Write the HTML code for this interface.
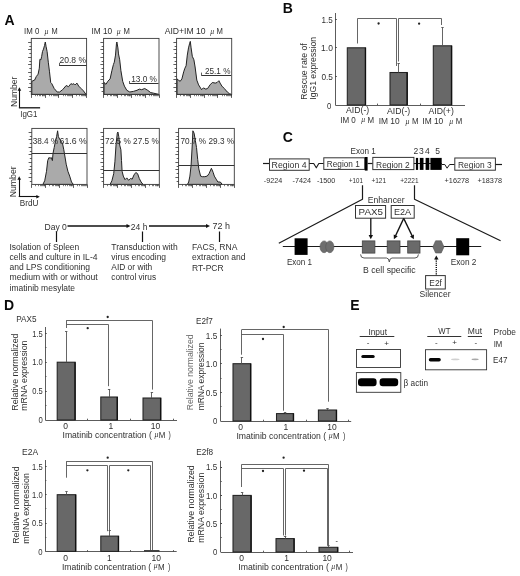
<!DOCTYPE html>
<html><head><meta charset="utf-8"><title>Figure</title>
<style>
html,body{margin:0;padding:0;background:#fff;}
body{width:520px;height:576px;overflow:hidden;position:relative;}
svg{position:absolute;left:0;top:0;display:block;filter:blur(0.3px);}
svg text{font-family:"Liberation Sans", sans-serif;}
</style></head>
<body>
<svg width="520" height="576" viewBox="0 0 520 576">
<rect x="0" y="0" width="520" height="576" fill="#fff"/>
<text x="4.4" y="25.4" font-size="14" font-weight="bold" fill="#0a0a0a" >A</text>
<text x="282.8" y="12.5" font-size="14" font-weight="bold" fill="#0a0a0a" >B</text>
<text x="282.7" y="141.6" font-size="14" font-weight="bold" fill="#0a0a0a" >C</text>
<text x="4.1" y="309.6" font-size="14" font-weight="bold" fill="#0a0a0a" >D</text>
<text x="350.2" y="309.6" font-size="14" font-weight="bold" fill="#0a0a0a" >E</text>
<polygon points="31.8,94.4 31.8,81.3 34.6,80.1 36.3,76.5 38.1,74.2 39.3,68.2 39.9,59.3 40.9,59.8 41.7,56.3 42.5,51.5 43.5,49.1 44.5,45.5 45.3,42 46.1,46.7 47.1,51.5 48.3,62.2 49.5,71.8 50.7,82.5 51.8,83.7 54.2,88.5 57.2,92 59.6,92 62.6,89.7 66.2,85.5 68.5,86.7 70.9,83.7 72.7,84.3 73.9,83.7 75.1,84.9 76.9,83.1 78.7,86.1 81.1,88.5 83.4,90.8 86,94.4 86,94.4" fill="#aaaaaa" stroke="#222" stroke-width="1" stroke-linejoin="round" />
<rect x="31.3" y="38.4" width="55.3" height="56" fill="none" stroke="#3a3a3a" stroke-width="0.9" />
<line x1="28.1" y1="42.5" x2="31.3" y2="42.5" stroke="#333" stroke-width="0.8" />
<line x1="29.3" y1="46.5" x2="31.3" y2="46.5" stroke="#333" stroke-width="0.8" />
<line x1="28.1" y1="49.5" x2="31.3" y2="49.5" stroke="#333" stroke-width="0.8" />
<line x1="29.3" y1="53.5" x2="31.3" y2="53.5" stroke="#333" stroke-width="0.8" />
<line x1="28.1" y1="57.5" x2="31.3" y2="57.5" stroke="#333" stroke-width="0.8" />
<line x1="29.3" y1="61.5" x2="31.3" y2="61.5" stroke="#333" stroke-width="0.8" />
<line x1="28.1" y1="64.5" x2="31.3" y2="64.5" stroke="#333" stroke-width="0.8" />
<line x1="29.3" y1="68.5" x2="31.3" y2="68.5" stroke="#333" stroke-width="0.8" />
<line x1="28.1" y1="72.5" x2="31.3" y2="72.5" stroke="#333" stroke-width="0.8" />
<line x1="29.3" y1="76.5" x2="31.3" y2="76.5" stroke="#333" stroke-width="0.8" />
<line x1="28.1" y1="79.5" x2="31.3" y2="79.5" stroke="#333" stroke-width="0.8" />
<line x1="29.3" y1="83.5" x2="31.3" y2="83.5" stroke="#333" stroke-width="0.8" />
<line x1="28.1" y1="87.5" x2="31.3" y2="87.5" stroke="#333" stroke-width="0.8" />
<line x1="29.3" y1="91.5" x2="31.3" y2="91.5" stroke="#333" stroke-width="0.8" />
<line x1="31.5" y1="94.4" x2="31.5" y2="97.9" stroke="#333" stroke-width="0.8" />
<line x1="35.5" y1="94.4" x2="35.5" y2="96.2" stroke="#444" stroke-width="0.7" />
<line x1="37.5" y1="94.4" x2="37.5" y2="96.2" stroke="#444" stroke-width="0.7" />
<line x1="39.5" y1="94.4" x2="39.5" y2="96.2" stroke="#444" stroke-width="0.7" />
<line x1="40.5" y1="94.4" x2="40.5" y2="96.2" stroke="#444" stroke-width="0.7" />
<line x1="42.5" y1="94.4" x2="42.5" y2="96.2" stroke="#444" stroke-width="0.7" />
<line x1="42.5" y1="94.4" x2="42.5" y2="96.2" stroke="#444" stroke-width="0.7" />
<line x1="43.5" y1="94.4" x2="43.5" y2="96.2" stroke="#444" stroke-width="0.7" />
<line x1="44.5" y1="94.4" x2="44.5" y2="96.2" stroke="#444" stroke-width="0.7" />
<line x1="45.5" y1="94.4" x2="45.5" y2="97.9" stroke="#333" stroke-width="0.8" />
<line x1="49.5" y1="94.4" x2="49.5" y2="96.2" stroke="#444" stroke-width="0.7" />
<line x1="51.5" y1="94.4" x2="51.5" y2="96.2" stroke="#444" stroke-width="0.7" />
<line x1="53.5" y1="94.4" x2="53.5" y2="96.2" stroke="#444" stroke-width="0.7" />
<line x1="54.5" y1="94.4" x2="54.5" y2="96.2" stroke="#444" stroke-width="0.7" />
<line x1="55.5" y1="94.4" x2="55.5" y2="96.2" stroke="#444" stroke-width="0.7" />
<line x1="56.5" y1="94.4" x2="56.5" y2="96.2" stroke="#444" stroke-width="0.7" />
<line x1="57.5" y1="94.4" x2="57.5" y2="96.2" stroke="#444" stroke-width="0.7" />
<line x1="58.5" y1="94.4" x2="58.5" y2="96.2" stroke="#444" stroke-width="0.7" />
<line x1="58.5" y1="94.4" x2="58.5" y2="97.9" stroke="#333" stroke-width="0.8" />
<line x1="63.5" y1="94.4" x2="63.5" y2="96.2" stroke="#444" stroke-width="0.7" />
<line x1="65.5" y1="94.4" x2="65.5" y2="96.2" stroke="#444" stroke-width="0.7" />
<line x1="67.5" y1="94.4" x2="67.5" y2="96.2" stroke="#444" stroke-width="0.7" />
<line x1="68.5" y1="94.4" x2="68.5" y2="96.2" stroke="#444" stroke-width="0.7" />
<line x1="69.5" y1="94.4" x2="69.5" y2="96.2" stroke="#444" stroke-width="0.7" />
<line x1="70.5" y1="94.4" x2="70.5" y2="96.2" stroke="#444" stroke-width="0.7" />
<line x1="71.5" y1="94.4" x2="71.5" y2="96.2" stroke="#444" stroke-width="0.7" />
<line x1="72.5" y1="94.4" x2="72.5" y2="96.2" stroke="#444" stroke-width="0.7" />
<line x1="72.5" y1="94.4" x2="72.5" y2="97.9" stroke="#333" stroke-width="0.8" />
<line x1="76.5" y1="94.4" x2="76.5" y2="96.2" stroke="#444" stroke-width="0.7" />
<line x1="79.5" y1="94.4" x2="79.5" y2="96.2" stroke="#444" stroke-width="0.7" />
<line x1="81.5" y1="94.4" x2="81.5" y2="96.2" stroke="#444" stroke-width="0.7" />
<line x1="82.5" y1="94.4" x2="82.5" y2="96.2" stroke="#444" stroke-width="0.7" />
<line x1="83.5" y1="94.4" x2="83.5" y2="96.2" stroke="#444" stroke-width="0.7" />
<line x1="84.5" y1="94.4" x2="84.5" y2="96.2" stroke="#444" stroke-width="0.7" />
<line x1="85.5" y1="94.4" x2="85.5" y2="96.2" stroke="#444" stroke-width="0.7" />
<line x1="85.5" y1="94.4" x2="85.5" y2="96.2" stroke="#444" stroke-width="0.7" />
<line x1="86.5" y1="94.4" x2="86.5" y2="97.9" stroke="#333" stroke-width="0.8" />
<polygon points="104,94.4 104,82.5 106,84.3 107.8,81.3 110.1,78.9 111.9,70.6 113.4,64.6 114.3,62.2 115.5,55.1 116.5,43.2 116.9,42 117.9,47.9 118.5,53.9 119.7,59.8 120.9,70.6 122.7,81.3 124.4,86.1 126.8,90.3 129.8,92 133.4,91.4 137,90.3 139.3,89.1 141.7,89.7 144.7,88.5 147.7,90.3 150.7,92.6 153.7,93.2 158.6,94.4 158.6,94.4" fill="#aaaaaa" stroke="#222" stroke-width="1" stroke-linejoin="round" />
<rect x="103.6" y="38.4" width="55.4" height="56" fill="none" stroke="#3a3a3a" stroke-width="0.9" />
<line x1="100.4" y1="42.5" x2="103.6" y2="42.5" stroke="#333" stroke-width="0.8" />
<line x1="101.6" y1="46.5" x2="103.6" y2="46.5" stroke="#333" stroke-width="0.8" />
<line x1="100.4" y1="49.5" x2="103.6" y2="49.5" stroke="#333" stroke-width="0.8" />
<line x1="101.6" y1="53.5" x2="103.6" y2="53.5" stroke="#333" stroke-width="0.8" />
<line x1="100.4" y1="57.5" x2="103.6" y2="57.5" stroke="#333" stroke-width="0.8" />
<line x1="101.6" y1="61.5" x2="103.6" y2="61.5" stroke="#333" stroke-width="0.8" />
<line x1="100.4" y1="64.5" x2="103.6" y2="64.5" stroke="#333" stroke-width="0.8" />
<line x1="101.6" y1="68.5" x2="103.6" y2="68.5" stroke="#333" stroke-width="0.8" />
<line x1="100.4" y1="72.5" x2="103.6" y2="72.5" stroke="#333" stroke-width="0.8" />
<line x1="101.6" y1="76.5" x2="103.6" y2="76.5" stroke="#333" stroke-width="0.8" />
<line x1="100.4" y1="79.5" x2="103.6" y2="79.5" stroke="#333" stroke-width="0.8" />
<line x1="101.6" y1="83.5" x2="103.6" y2="83.5" stroke="#333" stroke-width="0.8" />
<line x1="100.4" y1="87.5" x2="103.6" y2="87.5" stroke="#333" stroke-width="0.8" />
<line x1="101.6" y1="91.5" x2="103.6" y2="91.5" stroke="#333" stroke-width="0.8" />
<line x1="103.5" y1="94.4" x2="103.5" y2="97.9" stroke="#333" stroke-width="0.8" />
<line x1="107.5" y1="94.4" x2="107.5" y2="96.2" stroke="#444" stroke-width="0.7" />
<line x1="110.5" y1="94.4" x2="110.5" y2="96.2" stroke="#444" stroke-width="0.7" />
<line x1="111.5" y1="94.4" x2="111.5" y2="96.2" stroke="#444" stroke-width="0.7" />
<line x1="113.5" y1="94.4" x2="113.5" y2="96.2" stroke="#444" stroke-width="0.7" />
<line x1="114.5" y1="94.4" x2="114.5" y2="96.2" stroke="#444" stroke-width="0.7" />
<line x1="115.5" y1="94.4" x2="115.5" y2="96.2" stroke="#444" stroke-width="0.7" />
<line x1="116.5" y1="94.4" x2="116.5" y2="96.2" stroke="#444" stroke-width="0.7" />
<line x1="116.5" y1="94.4" x2="116.5" y2="96.2" stroke="#444" stroke-width="0.7" />
<line x1="117.5" y1="94.4" x2="117.5" y2="97.9" stroke="#333" stroke-width="0.8" />
<line x1="121.5" y1="94.4" x2="121.5" y2="96.2" stroke="#444" stroke-width="0.7" />
<line x1="124.5" y1="94.4" x2="124.5" y2="96.2" stroke="#444" stroke-width="0.7" />
<line x1="125.5" y1="94.4" x2="125.5" y2="96.2" stroke="#444" stroke-width="0.7" />
<line x1="127.5" y1="94.4" x2="127.5" y2="96.2" stroke="#444" stroke-width="0.7" />
<line x1="128.5" y1="94.4" x2="128.5" y2="96.2" stroke="#444" stroke-width="0.7" />
<line x1="129.5" y1="94.4" x2="129.5" y2="96.2" stroke="#444" stroke-width="0.7" />
<line x1="129.5" y1="94.4" x2="129.5" y2="96.2" stroke="#444" stroke-width="0.7" />
<line x1="130.5" y1="94.4" x2="130.5" y2="96.2" stroke="#444" stroke-width="0.7" />
<line x1="131.5" y1="94.4" x2="131.5" y2="97.9" stroke="#333" stroke-width="0.8" />
<line x1="135.5" y1="94.4" x2="135.5" y2="96.2" stroke="#444" stroke-width="0.7" />
<line x1="137.5" y1="94.4" x2="137.5" y2="96.2" stroke="#444" stroke-width="0.7" />
<line x1="139.5" y1="94.4" x2="139.5" y2="96.2" stroke="#444" stroke-width="0.7" />
<line x1="140.5" y1="94.4" x2="140.5" y2="96.2" stroke="#444" stroke-width="0.7" />
<line x1="142.5" y1="94.4" x2="142.5" y2="96.2" stroke="#444" stroke-width="0.7" />
<line x1="143.5" y1="94.4" x2="143.5" y2="96.2" stroke="#444" stroke-width="0.7" />
<line x1="143.5" y1="94.4" x2="143.5" y2="96.2" stroke="#444" stroke-width="0.7" />
<line x1="144.5" y1="94.4" x2="144.5" y2="96.2" stroke="#444" stroke-width="0.7" />
<line x1="145.5" y1="94.4" x2="145.5" y2="97.9" stroke="#333" stroke-width="0.8" />
<line x1="149.5" y1="94.4" x2="149.5" y2="96.2" stroke="#444" stroke-width="0.7" />
<line x1="151.5" y1="94.4" x2="151.5" y2="96.2" stroke="#444" stroke-width="0.7" />
<line x1="153.5" y1="94.4" x2="153.5" y2="96.2" stroke="#444" stroke-width="0.7" />
<line x1="154.5" y1="94.4" x2="154.5" y2="96.2" stroke="#444" stroke-width="0.7" />
<line x1="155.5" y1="94.4" x2="155.5" y2="96.2" stroke="#444" stroke-width="0.7" />
<line x1="156.5" y1="94.4" x2="156.5" y2="96.2" stroke="#444" stroke-width="0.7" />
<line x1="157.5" y1="94.4" x2="157.5" y2="96.2" stroke="#444" stroke-width="0.7" />
<line x1="158.5" y1="94.4" x2="158.5" y2="96.2" stroke="#444" stroke-width="0.7" />
<line x1="159.5" y1="94.4" x2="159.5" y2="97.9" stroke="#333" stroke-width="0.8" />
<polygon points="177,94.4 177,78.9 178.4,80.1 180.2,81.3 181.9,78.9 183.7,71.8 184.9,68.2 186.1,65.8 187.3,55.1 188.5,47.9 189.7,43.2 190.3,41.4 191.1,47.9 192.3,56.3 193.9,59.8 195.1,67 196.8,80.1 198.6,84.9 201.6,89.7 203.4,87.9 205.8,89.1 207.6,88.5 210,84.9 212.3,82.5 215.3,83.1 217.1,82.5 218.9,80.7 220.1,83.1 221.9,86.1 224.3,88.5 227.3,92 229.6,93.8 231.3,94.4 231.3,94.4" fill="#aaaaaa" stroke="#222" stroke-width="1" stroke-linejoin="round" />
<rect x="176.6" y="38.4" width="55.1" height="56" fill="none" stroke="#3a3a3a" stroke-width="0.9" />
<line x1="173.4" y1="42.5" x2="176.6" y2="42.5" stroke="#333" stroke-width="0.8" />
<line x1="174.6" y1="46.5" x2="176.6" y2="46.5" stroke="#333" stroke-width="0.8" />
<line x1="173.4" y1="49.5" x2="176.6" y2="49.5" stroke="#333" stroke-width="0.8" />
<line x1="174.6" y1="53.5" x2="176.6" y2="53.5" stroke="#333" stroke-width="0.8" />
<line x1="173.4" y1="57.5" x2="176.6" y2="57.5" stroke="#333" stroke-width="0.8" />
<line x1="174.6" y1="61.5" x2="176.6" y2="61.5" stroke="#333" stroke-width="0.8" />
<line x1="173.4" y1="64.5" x2="176.6" y2="64.5" stroke="#333" stroke-width="0.8" />
<line x1="174.6" y1="68.5" x2="176.6" y2="68.5" stroke="#333" stroke-width="0.8" />
<line x1="173.4" y1="72.5" x2="176.6" y2="72.5" stroke="#333" stroke-width="0.8" />
<line x1="174.6" y1="76.5" x2="176.6" y2="76.5" stroke="#333" stroke-width="0.8" />
<line x1="173.4" y1="79.5" x2="176.6" y2="79.5" stroke="#333" stroke-width="0.8" />
<line x1="174.6" y1="83.5" x2="176.6" y2="83.5" stroke="#333" stroke-width="0.8" />
<line x1="173.4" y1="87.5" x2="176.6" y2="87.5" stroke="#333" stroke-width="0.8" />
<line x1="174.6" y1="91.5" x2="176.6" y2="91.5" stroke="#333" stroke-width="0.8" />
<line x1="176.5" y1="94.4" x2="176.5" y2="97.9" stroke="#333" stroke-width="0.8" />
<line x1="180.5" y1="94.4" x2="180.5" y2="96.2" stroke="#444" stroke-width="0.7" />
<line x1="183.5" y1="94.4" x2="183.5" y2="96.2" stroke="#444" stroke-width="0.7" />
<line x1="184.5" y1="94.4" x2="184.5" y2="96.2" stroke="#444" stroke-width="0.7" />
<line x1="186.5" y1="94.4" x2="186.5" y2="96.2" stroke="#444" stroke-width="0.7" />
<line x1="187.5" y1="94.4" x2="187.5" y2="96.2" stroke="#444" stroke-width="0.7" />
<line x1="188.5" y1="94.4" x2="188.5" y2="96.2" stroke="#444" stroke-width="0.7" />
<line x1="189.5" y1="94.4" x2="189.5" y2="96.2" stroke="#444" stroke-width="0.7" />
<line x1="189.5" y1="94.4" x2="189.5" y2="96.2" stroke="#444" stroke-width="0.7" />
<line x1="190.5" y1="94.4" x2="190.5" y2="97.9" stroke="#333" stroke-width="0.8" />
<line x1="194.5" y1="94.4" x2="194.5" y2="96.2" stroke="#444" stroke-width="0.7" />
<line x1="196.5" y1="94.4" x2="196.5" y2="96.2" stroke="#444" stroke-width="0.7" />
<line x1="198.5" y1="94.4" x2="198.5" y2="96.2" stroke="#444" stroke-width="0.7" />
<line x1="200.5" y1="94.4" x2="200.5" y2="96.2" stroke="#444" stroke-width="0.7" />
<line x1="201.5" y1="94.4" x2="201.5" y2="96.2" stroke="#444" stroke-width="0.7" />
<line x1="202.5" y1="94.4" x2="202.5" y2="96.2" stroke="#444" stroke-width="0.7" />
<line x1="202.5" y1="94.4" x2="202.5" y2="96.2" stroke="#444" stroke-width="0.7" />
<line x1="203.5" y1="94.4" x2="203.5" y2="96.2" stroke="#444" stroke-width="0.7" />
<line x1="204.5" y1="94.4" x2="204.5" y2="97.9" stroke="#333" stroke-width="0.8" />
<line x1="208.5" y1="94.4" x2="208.5" y2="96.2" stroke="#444" stroke-width="0.7" />
<line x1="210.5" y1="94.4" x2="210.5" y2="96.2" stroke="#444" stroke-width="0.7" />
<line x1="212.5" y1="94.4" x2="212.5" y2="96.2" stroke="#444" stroke-width="0.7" />
<line x1="213.5" y1="94.4" x2="213.5" y2="96.2" stroke="#444" stroke-width="0.7" />
<line x1="214.5" y1="94.4" x2="214.5" y2="96.2" stroke="#444" stroke-width="0.7" />
<line x1="215.5" y1="94.4" x2="215.5" y2="96.2" stroke="#444" stroke-width="0.7" />
<line x1="216.5" y1="94.4" x2="216.5" y2="96.2" stroke="#444" stroke-width="0.7" />
<line x1="217.5" y1="94.4" x2="217.5" y2="96.2" stroke="#444" stroke-width="0.7" />
<line x1="217.5" y1="94.4" x2="217.5" y2="97.9" stroke="#333" stroke-width="0.8" />
<line x1="222.5" y1="94.4" x2="222.5" y2="96.2" stroke="#444" stroke-width="0.7" />
<line x1="224.5" y1="94.4" x2="224.5" y2="96.2" stroke="#444" stroke-width="0.7" />
<line x1="226.5" y1="94.4" x2="226.5" y2="96.2" stroke="#444" stroke-width="0.7" />
<line x1="227.5" y1="94.4" x2="227.5" y2="96.2" stroke="#444" stroke-width="0.7" />
<line x1="228.5" y1="94.4" x2="228.5" y2="96.2" stroke="#444" stroke-width="0.7" />
<line x1="229.5" y1="94.4" x2="229.5" y2="96.2" stroke="#444" stroke-width="0.7" />
<line x1="230.5" y1="94.4" x2="230.5" y2="96.2" stroke="#444" stroke-width="0.7" />
<line x1="231.5" y1="94.4" x2="231.5" y2="96.2" stroke="#444" stroke-width="0.7" />
<line x1="231.5" y1="94.4" x2="231.5" y2="97.9" stroke="#333" stroke-width="0.8" />
<text x="24" y="34" font-size="8.5" textLength="15.3" lengthAdjust="spacingAndGlyphs" fill="#303030" >IM 0</text>
<text x="44.4" y="33.8" font-size="6.8" fill="#303030" font-style="italic">µ</text>
<text x="51.5" y="34" font-size="8.5" textLength="6.2" lengthAdjust="spacingAndGlyphs" fill="#303030" >M</text>
<text x="91.4" y="33.6" font-size="8.5" textLength="20.8" lengthAdjust="spacingAndGlyphs" fill="#303030" >IM 10</text>
<text x="116.8" y="33.6" font-size="6.8" fill="#303030" font-style="italic">µ</text>
<text x="123.5" y="33.6" font-size="8.5" textLength="6.4" lengthAdjust="spacingAndGlyphs" fill="#303030" >M</text>
<text x="164.7" y="33.8" font-size="8.5" textLength="40.9" lengthAdjust="spacingAndGlyphs" fill="#303030" >AID+IM 10</text>
<text x="210.2" y="33.8" font-size="6.8" fill="#303030" font-style="italic">µ</text>
<text x="216.5" y="33.8" font-size="8.5" textLength="6.4" lengthAdjust="spacingAndGlyphs" fill="#303030" >M</text>
<line x1="59.2" y1="65.5" x2="86.6" y2="65.5" stroke="#333" stroke-width="1" />
<line x1="59.5" y1="62.8" x2="59.5" y2="65.8" stroke="#333" stroke-width="0.8" />
<text x="59.4" y="63.3" font-size="8.5" textLength="26.6" lengthAdjust="spacingAndGlyphs" fill="#303030" >20.8 %</text>
<line x1="129.8" y1="83.5" x2="158.5" y2="83.5" stroke="#333" stroke-width="1" />
<line x1="129.5" y1="81" x2="129.5" y2="84" stroke="#333" stroke-width="0.8" />
<text x="131.2" y="82.4" font-size="8.5" textLength="25.8" lengthAdjust="spacingAndGlyphs" fill="#303030" >13.0 %</text>
<line x1="201.4" y1="75.5" x2="231.2" y2="75.5" stroke="#333" stroke-width="1" />
<line x1="201.5" y1="72.6" x2="201.5" y2="75.6" stroke="#333" stroke-width="0.8" />
<text x="205" y="73.9" font-size="8.5" textLength="25.4" lengthAdjust="spacingAndGlyphs" fill="#303030" >25.1 %</text>
<polygon points="42.9,184.4 42.9,184.4 44.7,180.8 46.5,171.3 47.7,160.6 48.9,157.6 50.1,158.2 51.3,157.6 52.4,160.6 53,153.4 54.2,147.5 55.4,141.5 56.6,136.7 57.6,130.8 58.4,136.7 59.6,139.1 61.4,141.5 62.6,143.9 63.8,149.8 65,157 66.2,164.2 67.9,171.3 69.7,176.1 71.5,182 73.3,184.4 73.3,184.4" fill="#aaaaaa" stroke="#222" stroke-width="1" stroke-linejoin="round" />
<rect x="31.8" y="128.4" width="55.2" height="56" fill="none" stroke="#3a3a3a" stroke-width="0.9" />
<line x1="28.6" y1="132.5" x2="31.8" y2="132.5" stroke="#333" stroke-width="0.8" />
<line x1="29.8" y1="136.5" x2="31.8" y2="136.5" stroke="#333" stroke-width="0.8" />
<line x1="28.6" y1="139.5" x2="31.8" y2="139.5" stroke="#333" stroke-width="0.8" />
<line x1="29.8" y1="143.5" x2="31.8" y2="143.5" stroke="#333" stroke-width="0.8" />
<line x1="28.6" y1="147.5" x2="31.8" y2="147.5" stroke="#333" stroke-width="0.8" />
<line x1="29.8" y1="151.5" x2="31.8" y2="151.5" stroke="#333" stroke-width="0.8" />
<line x1="28.6" y1="154.5" x2="31.8" y2="154.5" stroke="#333" stroke-width="0.8" />
<line x1="29.8" y1="158.5" x2="31.8" y2="158.5" stroke="#333" stroke-width="0.8" />
<line x1="28.6" y1="162.5" x2="31.8" y2="162.5" stroke="#333" stroke-width="0.8" />
<line x1="29.8" y1="166.5" x2="31.8" y2="166.5" stroke="#333" stroke-width="0.8" />
<line x1="28.6" y1="169.5" x2="31.8" y2="169.5" stroke="#333" stroke-width="0.8" />
<line x1="29.8" y1="173.5" x2="31.8" y2="173.5" stroke="#333" stroke-width="0.8" />
<line x1="28.6" y1="177.5" x2="31.8" y2="177.5" stroke="#333" stroke-width="0.8" />
<line x1="29.8" y1="181.5" x2="31.8" y2="181.5" stroke="#333" stroke-width="0.8" />
<line x1="31.5" y1="184.4" x2="31.5" y2="187.9" stroke="#333" stroke-width="0.8" />
<line x1="35.5" y1="184.4" x2="35.5" y2="186.2" stroke="#444" stroke-width="0.7" />
<line x1="38.5" y1="184.4" x2="38.5" y2="186.2" stroke="#444" stroke-width="0.7" />
<line x1="40.5" y1="184.4" x2="40.5" y2="186.2" stroke="#444" stroke-width="0.7" />
<line x1="41.5" y1="184.4" x2="41.5" y2="186.2" stroke="#444" stroke-width="0.7" />
<line x1="42.5" y1="184.4" x2="42.5" y2="186.2" stroke="#444" stroke-width="0.7" />
<line x1="43.5" y1="184.4" x2="43.5" y2="186.2" stroke="#444" stroke-width="0.7" />
<line x1="44.5" y1="184.4" x2="44.5" y2="186.2" stroke="#444" stroke-width="0.7" />
<line x1="44.5" y1="184.4" x2="44.5" y2="186.2" stroke="#444" stroke-width="0.7" />
<line x1="45.5" y1="184.4" x2="45.5" y2="187.9" stroke="#333" stroke-width="0.8" />
<line x1="49.5" y1="184.4" x2="49.5" y2="186.2" stroke="#444" stroke-width="0.7" />
<line x1="52.5" y1="184.4" x2="52.5" y2="186.2" stroke="#444" stroke-width="0.7" />
<line x1="53.5" y1="184.4" x2="53.5" y2="186.2" stroke="#444" stroke-width="0.7" />
<line x1="55.5" y1="184.4" x2="55.5" y2="186.2" stroke="#444" stroke-width="0.7" />
<line x1="56.5" y1="184.4" x2="56.5" y2="186.2" stroke="#444" stroke-width="0.7" />
<line x1="57.5" y1="184.4" x2="57.5" y2="186.2" stroke="#444" stroke-width="0.7" />
<line x1="58.5" y1="184.4" x2="58.5" y2="186.2" stroke="#444" stroke-width="0.7" />
<line x1="58.5" y1="184.4" x2="58.5" y2="186.2" stroke="#444" stroke-width="0.7" />
<line x1="59.5" y1="184.4" x2="59.5" y2="187.9" stroke="#333" stroke-width="0.8" />
<line x1="63.5" y1="184.4" x2="63.5" y2="186.2" stroke="#444" stroke-width="0.7" />
<line x1="65.5" y1="184.4" x2="65.5" y2="186.2" stroke="#444" stroke-width="0.7" />
<line x1="67.5" y1="184.4" x2="67.5" y2="186.2" stroke="#444" stroke-width="0.7" />
<line x1="69.5" y1="184.4" x2="69.5" y2="186.2" stroke="#444" stroke-width="0.7" />
<line x1="70.5" y1="184.4" x2="70.5" y2="186.2" stroke="#444" stroke-width="0.7" />
<line x1="71.5" y1="184.4" x2="71.5" y2="186.2" stroke="#444" stroke-width="0.7" />
<line x1="71.5" y1="184.4" x2="71.5" y2="186.2" stroke="#444" stroke-width="0.7" />
<line x1="72.5" y1="184.4" x2="72.5" y2="186.2" stroke="#444" stroke-width="0.7" />
<line x1="73.5" y1="184.4" x2="73.5" y2="187.9" stroke="#333" stroke-width="0.8" />
<line x1="77.5" y1="184.4" x2="77.5" y2="186.2" stroke="#444" stroke-width="0.7" />
<line x1="79.5" y1="184.4" x2="79.5" y2="186.2" stroke="#444" stroke-width="0.7" />
<line x1="81.5" y1="184.4" x2="81.5" y2="186.2" stroke="#444" stroke-width="0.7" />
<line x1="82.5" y1="184.4" x2="82.5" y2="186.2" stroke="#444" stroke-width="0.7" />
<line x1="83.5" y1="184.4" x2="83.5" y2="186.2" stroke="#444" stroke-width="0.7" />
<line x1="84.5" y1="184.4" x2="84.5" y2="186.2" stroke="#444" stroke-width="0.7" />
<line x1="85.5" y1="184.4" x2="85.5" y2="186.2" stroke="#444" stroke-width="0.7" />
<line x1="86.5" y1="184.4" x2="86.5" y2="186.2" stroke="#444" stroke-width="0.7" />
<line x1="87.5" y1="184.4" x2="87.5" y2="187.9" stroke="#333" stroke-width="0.8" />
<line x1="31.8" y1="153.5" x2="87" y2="153.5" stroke="#333" stroke-width="1" />
<text x="32.7" y="143.8" font-size="8.2" textLength="25.6" lengthAdjust="spacingAndGlyphs" fill="#303030" >38.4 %</text>
<text x="59.5" y="143.8" font-size="8.2" textLength="27.4" lengthAdjust="spacingAndGlyphs" fill="#303030" >61.6 %</text>
<polygon points="110.1,184.4 110.1,184.4 111.9,180.8 113.7,173.7 114.9,161.8 116.1,143.9 117.3,133.2 117.9,132 118.8,136.7 119.7,145.1 120.9,149.8 121.5,160.6 122.1,171.3 123.3,176.1 125,179.7 126.8,177.9 128.6,180.3 130.4,178.5 132.2,179.1 134,174.9 135.8,172.5 137.6,173.7 139.3,178.5 141.1,182 142.9,184.2 142.9,184.4" fill="#aaaaaa" stroke="#222" stroke-width="1" stroke-linejoin="round" />
<rect x="103.6" y="128.4" width="55.7" height="56" fill="none" stroke="#3a3a3a" stroke-width="0.9" />
<line x1="100.4" y1="132.5" x2="103.6" y2="132.5" stroke="#333" stroke-width="0.8" />
<line x1="101.6" y1="136.5" x2="103.6" y2="136.5" stroke="#333" stroke-width="0.8" />
<line x1="100.4" y1="139.5" x2="103.6" y2="139.5" stroke="#333" stroke-width="0.8" />
<line x1="101.6" y1="143.5" x2="103.6" y2="143.5" stroke="#333" stroke-width="0.8" />
<line x1="100.4" y1="147.5" x2="103.6" y2="147.5" stroke="#333" stroke-width="0.8" />
<line x1="101.6" y1="151.5" x2="103.6" y2="151.5" stroke="#333" stroke-width="0.8" />
<line x1="100.4" y1="154.5" x2="103.6" y2="154.5" stroke="#333" stroke-width="0.8" />
<line x1="101.6" y1="158.5" x2="103.6" y2="158.5" stroke="#333" stroke-width="0.8" />
<line x1="100.4" y1="162.5" x2="103.6" y2="162.5" stroke="#333" stroke-width="0.8" />
<line x1="101.6" y1="166.5" x2="103.6" y2="166.5" stroke="#333" stroke-width="0.8" />
<line x1="100.4" y1="169.5" x2="103.6" y2="169.5" stroke="#333" stroke-width="0.8" />
<line x1="101.6" y1="173.5" x2="103.6" y2="173.5" stroke="#333" stroke-width="0.8" />
<line x1="100.4" y1="177.5" x2="103.6" y2="177.5" stroke="#333" stroke-width="0.8" />
<line x1="101.6" y1="181.5" x2="103.6" y2="181.5" stroke="#333" stroke-width="0.8" />
<line x1="103.5" y1="184.4" x2="103.5" y2="187.9" stroke="#333" stroke-width="0.8" />
<line x1="107.5" y1="184.4" x2="107.5" y2="186.2" stroke="#444" stroke-width="0.7" />
<line x1="110.5" y1="184.4" x2="110.5" y2="186.2" stroke="#444" stroke-width="0.7" />
<line x1="111.5" y1="184.4" x2="111.5" y2="186.2" stroke="#444" stroke-width="0.7" />
<line x1="113.5" y1="184.4" x2="113.5" y2="186.2" stroke="#444" stroke-width="0.7" />
<line x1="114.5" y1="184.4" x2="114.5" y2="186.2" stroke="#444" stroke-width="0.7" />
<line x1="115.5" y1="184.4" x2="115.5" y2="186.2" stroke="#444" stroke-width="0.7" />
<line x1="116.5" y1="184.4" x2="116.5" y2="186.2" stroke="#444" stroke-width="0.7" />
<line x1="116.5" y1="184.4" x2="116.5" y2="186.2" stroke="#444" stroke-width="0.7" />
<line x1="117.5" y1="184.4" x2="117.5" y2="187.9" stroke="#333" stroke-width="0.8" />
<line x1="121.5" y1="184.4" x2="121.5" y2="186.2" stroke="#444" stroke-width="0.7" />
<line x1="124.5" y1="184.4" x2="124.5" y2="186.2" stroke="#444" stroke-width="0.7" />
<line x1="125.5" y1="184.4" x2="125.5" y2="186.2" stroke="#444" stroke-width="0.7" />
<line x1="127.5" y1="184.4" x2="127.5" y2="186.2" stroke="#444" stroke-width="0.7" />
<line x1="128.5" y1="184.4" x2="128.5" y2="186.2" stroke="#444" stroke-width="0.7" />
<line x1="129.5" y1="184.4" x2="129.5" y2="186.2" stroke="#444" stroke-width="0.7" />
<line x1="130.5" y1="184.4" x2="130.5" y2="186.2" stroke="#444" stroke-width="0.7" />
<line x1="130.5" y1="184.4" x2="130.5" y2="186.2" stroke="#444" stroke-width="0.7" />
<line x1="131.5" y1="184.4" x2="131.5" y2="187.9" stroke="#333" stroke-width="0.8" />
<line x1="135.5" y1="184.4" x2="135.5" y2="186.2" stroke="#444" stroke-width="0.7" />
<line x1="138.5" y1="184.4" x2="138.5" y2="186.2" stroke="#444" stroke-width="0.7" />
<line x1="139.5" y1="184.4" x2="139.5" y2="186.2" stroke="#444" stroke-width="0.7" />
<line x1="141.5" y1="184.4" x2="141.5" y2="186.2" stroke="#444" stroke-width="0.7" />
<line x1="142.5" y1="184.4" x2="142.5" y2="186.2" stroke="#444" stroke-width="0.7" />
<line x1="143.5" y1="184.4" x2="143.5" y2="186.2" stroke="#444" stroke-width="0.7" />
<line x1="144.5" y1="184.4" x2="144.5" y2="186.2" stroke="#444" stroke-width="0.7" />
<line x1="144.5" y1="184.4" x2="144.5" y2="186.2" stroke="#444" stroke-width="0.7" />
<line x1="145.5" y1="184.4" x2="145.5" y2="187.9" stroke="#333" stroke-width="0.8" />
<line x1="149.5" y1="184.4" x2="149.5" y2="186.2" stroke="#444" stroke-width="0.7" />
<line x1="152.5" y1="184.4" x2="152.5" y2="186.2" stroke="#444" stroke-width="0.7" />
<line x1="153.5" y1="184.4" x2="153.5" y2="186.2" stroke="#444" stroke-width="0.7" />
<line x1="155.5" y1="184.4" x2="155.5" y2="186.2" stroke="#444" stroke-width="0.7" />
<line x1="156.5" y1="184.4" x2="156.5" y2="186.2" stroke="#444" stroke-width="0.7" />
<line x1="157.5" y1="184.4" x2="157.5" y2="186.2" stroke="#444" stroke-width="0.7" />
<line x1="157.5" y1="184.4" x2="157.5" y2="186.2" stroke="#444" stroke-width="0.7" />
<line x1="158.5" y1="184.4" x2="158.5" y2="186.2" stroke="#444" stroke-width="0.7" />
<line x1="159.5" y1="184.4" x2="159.5" y2="187.9" stroke="#333" stroke-width="0.8" />
<line x1="103.6" y1="170.5" x2="159.3" y2="170.5" stroke="#333" stroke-width="1" />
<text x="105.1" y="143.8" font-size="8.2" textLength="25.6" lengthAdjust="spacingAndGlyphs" fill="#303030" >72.5 %</text>
<text x="133.1" y="143.8" font-size="8.2" textLength="25.6" lengthAdjust="spacingAndGlyphs" fill="#303030" >27.5 %</text>
<polygon points="187.5,184.4 187.5,184.4 188.7,182 189.9,176.1 191.1,165.3 192.3,143.9 192.9,130.8 194.1,133.2 195.3,140.3 196.5,147.5 197.7,159.4 198.8,168.9 200.6,176.1 202.4,176.7 204.8,176.7 207.2,176.1 209,173.7 211.4,168.3 213.2,172.5 214.3,176.1 216.1,179.1 217.9,182 220.3,182 222.1,184.2 222.1,184.4" fill="#aaaaaa" stroke="#222" stroke-width="1" stroke-linejoin="round" />
<rect x="178.6" y="128.4" width="55.7" height="56" fill="none" stroke="#3a3a3a" stroke-width="0.9" />
<line x1="175.4" y1="132.5" x2="178.6" y2="132.5" stroke="#333" stroke-width="0.8" />
<line x1="176.6" y1="136.5" x2="178.6" y2="136.5" stroke="#333" stroke-width="0.8" />
<line x1="175.4" y1="139.5" x2="178.6" y2="139.5" stroke="#333" stroke-width="0.8" />
<line x1="176.6" y1="143.5" x2="178.6" y2="143.5" stroke="#333" stroke-width="0.8" />
<line x1="175.4" y1="147.5" x2="178.6" y2="147.5" stroke="#333" stroke-width="0.8" />
<line x1="176.6" y1="151.5" x2="178.6" y2="151.5" stroke="#333" stroke-width="0.8" />
<line x1="175.4" y1="154.5" x2="178.6" y2="154.5" stroke="#333" stroke-width="0.8" />
<line x1="176.6" y1="158.5" x2="178.6" y2="158.5" stroke="#333" stroke-width="0.8" />
<line x1="175.4" y1="162.5" x2="178.6" y2="162.5" stroke="#333" stroke-width="0.8" />
<line x1="176.6" y1="166.5" x2="178.6" y2="166.5" stroke="#333" stroke-width="0.8" />
<line x1="175.4" y1="169.5" x2="178.6" y2="169.5" stroke="#333" stroke-width="0.8" />
<line x1="176.6" y1="173.5" x2="178.6" y2="173.5" stroke="#333" stroke-width="0.8" />
<line x1="175.4" y1="177.5" x2="178.6" y2="177.5" stroke="#333" stroke-width="0.8" />
<line x1="176.6" y1="181.5" x2="178.6" y2="181.5" stroke="#333" stroke-width="0.8" />
<line x1="178.5" y1="184.4" x2="178.5" y2="187.9" stroke="#333" stroke-width="0.8" />
<line x1="182.5" y1="184.4" x2="182.5" y2="186.2" stroke="#444" stroke-width="0.7" />
<line x1="185.5" y1="184.4" x2="185.5" y2="186.2" stroke="#444" stroke-width="0.7" />
<line x1="186.5" y1="184.4" x2="186.5" y2="186.2" stroke="#444" stroke-width="0.7" />
<line x1="188.5" y1="184.4" x2="188.5" y2="186.2" stroke="#444" stroke-width="0.7" />
<line x1="189.5" y1="184.4" x2="189.5" y2="186.2" stroke="#444" stroke-width="0.7" />
<line x1="190.5" y1="184.4" x2="190.5" y2="186.2" stroke="#444" stroke-width="0.7" />
<line x1="191.5" y1="184.4" x2="191.5" y2="186.2" stroke="#444" stroke-width="0.7" />
<line x1="191.5" y1="184.4" x2="191.5" y2="186.2" stroke="#444" stroke-width="0.7" />
<line x1="192.5" y1="184.4" x2="192.5" y2="187.9" stroke="#333" stroke-width="0.8" />
<line x1="196.5" y1="184.4" x2="196.5" y2="186.2" stroke="#444" stroke-width="0.7" />
<line x1="199.5" y1="184.4" x2="199.5" y2="186.2" stroke="#444" stroke-width="0.7" />
<line x1="200.5" y1="184.4" x2="200.5" y2="186.2" stroke="#444" stroke-width="0.7" />
<line x1="202.5" y1="184.4" x2="202.5" y2="186.2" stroke="#444" stroke-width="0.7" />
<line x1="203.5" y1="184.4" x2="203.5" y2="186.2" stroke="#444" stroke-width="0.7" />
<line x1="204.5" y1="184.4" x2="204.5" y2="186.2" stroke="#444" stroke-width="0.7" />
<line x1="205.5" y1="184.4" x2="205.5" y2="186.2" stroke="#444" stroke-width="0.7" />
<line x1="205.5" y1="184.4" x2="205.5" y2="186.2" stroke="#444" stroke-width="0.7" />
<line x1="206.5" y1="184.4" x2="206.5" y2="187.9" stroke="#333" stroke-width="0.8" />
<line x1="210.5" y1="184.4" x2="210.5" y2="186.2" stroke="#444" stroke-width="0.7" />
<line x1="213.5" y1="184.4" x2="213.5" y2="186.2" stroke="#444" stroke-width="0.7" />
<line x1="214.5" y1="184.4" x2="214.5" y2="186.2" stroke="#444" stroke-width="0.7" />
<line x1="216.5" y1="184.4" x2="216.5" y2="186.2" stroke="#444" stroke-width="0.7" />
<line x1="217.5" y1="184.4" x2="217.5" y2="186.2" stroke="#444" stroke-width="0.7" />
<line x1="218.5" y1="184.4" x2="218.5" y2="186.2" stroke="#444" stroke-width="0.7" />
<line x1="219.5" y1="184.4" x2="219.5" y2="186.2" stroke="#444" stroke-width="0.7" />
<line x1="219.5" y1="184.4" x2="219.5" y2="186.2" stroke="#444" stroke-width="0.7" />
<line x1="220.5" y1="184.4" x2="220.5" y2="187.9" stroke="#333" stroke-width="0.8" />
<line x1="224.5" y1="184.4" x2="224.5" y2="186.2" stroke="#444" stroke-width="0.7" />
<line x1="227.5" y1="184.4" x2="227.5" y2="186.2" stroke="#444" stroke-width="0.7" />
<line x1="228.5" y1="184.4" x2="228.5" y2="186.2" stroke="#444" stroke-width="0.7" />
<line x1="230.5" y1="184.4" x2="230.5" y2="186.2" stroke="#444" stroke-width="0.7" />
<line x1="231.5" y1="184.4" x2="231.5" y2="186.2" stroke="#444" stroke-width="0.7" />
<line x1="232.5" y1="184.4" x2="232.5" y2="186.2" stroke="#444" stroke-width="0.7" />
<line x1="232.5" y1="184.4" x2="232.5" y2="186.2" stroke="#444" stroke-width="0.7" />
<line x1="233.5" y1="184.4" x2="233.5" y2="186.2" stroke="#444" stroke-width="0.7" />
<line x1="234.5" y1="184.4" x2="234.5" y2="187.9" stroke="#333" stroke-width="0.8" />
<line x1="178.6" y1="165.5" x2="234.3" y2="165.5" stroke="#333" stroke-width="1" />
<text x="180.5" y="143.8" font-size="8.2" textLength="25.6" lengthAdjust="spacingAndGlyphs" fill="#303030" >70.7 %</text>
<text x="208.5" y="143.8" font-size="8.2" textLength="25.6" lengthAdjust="spacingAndGlyphs" fill="#303030" >29.3 %</text>
<line x1="19.5" y1="107.8" x2="19.5" y2="89.3" stroke="#111" stroke-width="1.1" />
<polygon points="19.4,87.3 17.6,90.8 21.2,90.8" fill="#111" stroke="none" stroke-width="1" stroke-linejoin="round" />
<line x1="18.9" y1="107.8" x2="40.1" y2="107.8" stroke="#111" stroke-width="1.3" />
<line x1="19.5" y1="196.7" x2="19.5" y2="178.3" stroke="#111" stroke-width="1.1" />
<polygon points="19.2,176.3 17.4,179.8 21,179.8" fill="#111" stroke="none" stroke-width="1" stroke-linejoin="round" />
<line x1="18.7" y1="196.5" x2="37.8" y2="196.5" stroke="#111" stroke-width="1.1" />
<polygon points="39.8,196.7 36.3,194.9 36.3,198.5" fill="#111" stroke="none" stroke-width="1" stroke-linejoin="round" />
<text transform="translate(17.1,107) rotate(-90)" font-size="8.5" textLength="30.4" lengthAdjust="spacingAndGlyphs" fill="#303030" >Number</text>
<text transform="translate(15.6,197.3) rotate(-90)" font-size="8.5" textLength="31" lengthAdjust="spacingAndGlyphs" fill="#303030" >Number</text>
<text x="20.2" y="117.4" font-size="8.5" textLength="17.2" lengthAdjust="spacingAndGlyphs" fill="#303030" >IgG1</text>
<text x="19.8" y="205.6" font-size="8.5" textLength="18.6" lengthAdjust="spacingAndGlyphs" fill="#303030" >BrdU</text>
<line x1="67.5" y1="226" x2="128" y2="226" stroke="#111" stroke-width="1.4" />
<polygon points="130.5,226 126.5,224 126.5,228" fill="#111" stroke="none" stroke-width="1" stroke-linejoin="round" />
<line x1="149" y1="226" x2="207" y2="226" stroke="#111" stroke-width="1.4" />
<polygon points="210,226 206,224 206,228" fill="#111" stroke="none" stroke-width="1" stroke-linejoin="round" />
<text x="44.5" y="229.6" font-size="8.5" textLength="22.4" lengthAdjust="spacingAndGlyphs" fill="#303030" >Day 0</text>
<text x="130.8" y="229.6" font-size="8.5" textLength="16.6" lengthAdjust="spacingAndGlyphs" fill="#303030" >24 h</text>
<text x="212.4" y="229.4" font-size="8.5" textLength="17.5" lengthAdjust="spacingAndGlyphs" fill="#303030" >72 h</text>
<line x1="56.5" y1="231.5" x2="56.5" y2="242" stroke="#111" stroke-width="1.2" />
<line x1="142.5" y1="231.5" x2="142.5" y2="242" stroke="#111" stroke-width="1.2" />
<line x1="219.5" y1="231.5" x2="219.5" y2="242" stroke="#111" stroke-width="1.2" />
<text x="9.5" y="249.5" font-size="8.5" textLength="69.8" lengthAdjust="spacingAndGlyphs" fill="#303030" >Isolation of Spleen</text>
<text x="9.5" y="259.78" font-size="8.5" textLength="88" lengthAdjust="spacingAndGlyphs" fill="#303030" >cells and culture in IL-4</text>
<text x="9.5" y="270.06" font-size="8.5" textLength="80.6" lengthAdjust="spacingAndGlyphs" fill="#303030" >and LPS conditioning</text>
<text x="9.5" y="280.34" font-size="8.5" textLength="88.2" lengthAdjust="spacingAndGlyphs" fill="#303030" >medium with or without</text>
<text x="9.5" y="290.62" font-size="8.5" textLength="65.6" lengthAdjust="spacingAndGlyphs" fill="#303030" >imatinib mesylate</text>
<text x="111.3" y="249.6" font-size="8.5" textLength="66.4" lengthAdjust="spacingAndGlyphs" fill="#303030" >Transduction with</text>
<text x="111.3" y="259.82" font-size="8.5" textLength="54.8" lengthAdjust="spacingAndGlyphs" fill="#303030" >virus encoding</text>
<text x="111.3" y="270.04" font-size="8.5" textLength="41" lengthAdjust="spacingAndGlyphs" fill="#303030" >AID or with</text>
<text x="111.3" y="280.26" font-size="8.5" textLength="44.8" lengthAdjust="spacingAndGlyphs" fill="#303030" >control virus</text>
<text x="192.1" y="250.1" font-size="8.5" textLength="45.3" lengthAdjust="spacingAndGlyphs" fill="#303030" >FACS, RNA</text>
<text x="192.1" y="260.3" font-size="8.5" textLength="53.4" lengthAdjust="spacingAndGlyphs" fill="#303030" >extraction and</text>
<text x="192.1" y="270.5" font-size="8.5" textLength="31.5" lengthAdjust="spacingAndGlyphs" fill="#303030" >RT-PCR</text>
<line x1="335.5" y1="13" x2="335.5" y2="105" stroke="#4a4a4a" stroke-width="0.9" />
<line x1="335.3" y1="105.5" x2="465" y2="105.5" stroke="#4a4a4a" stroke-width="0.9" />
<line x1="335.3" y1="19.5" x2="336.8" y2="19.5" stroke="#333" stroke-width="0.9" />
<line x1="335.3" y1="47.5" x2="336.8" y2="47.5" stroke="#333" stroke-width="0.9" />
<line x1="335.3" y1="76.5" x2="336.8" y2="76.5" stroke="#333" stroke-width="0.9" />
<text x="332.8" y="22.8" font-size="8.5" text-anchor="end" textLength="11.2" lengthAdjust="spacingAndGlyphs" fill="#303030" >1.5</text>
<text x="332.9" y="51.2" font-size="8.5" text-anchor="end" textLength="11.8" lengthAdjust="spacingAndGlyphs" fill="#303030" >1.0</text>
<text x="332.9" y="79.9" font-size="8.5" text-anchor="end" textLength="11.5" lengthAdjust="spacingAndGlyphs" fill="#303030" >0.5</text>
<text x="331.3" y="108.6" font-size="8.5" text-anchor="end" textLength="4.3" lengthAdjust="spacingAndGlyphs" fill="#303030" >0</text>
<line x1="377.5" y1="105" x2="377.5" y2="103.6" stroke="#333" stroke-width="0.8" />
<line x1="420.5" y1="105" x2="420.5" y2="103.6" stroke="#333" stroke-width="0.8" />
<rect x="347.3" y="47.8" width="18.3" height="57.2" fill="#686868" stroke="#222" stroke-width="1.05" />
<line x1="365.4" y1="47.8" x2="365.4" y2="105" stroke="#111" stroke-width="1.3" />
<rect x="390" y="72.5" width="17.3" height="32.5" fill="#686868" stroke="#222" stroke-width="1.05" />
<line x1="407.1" y1="72.5" x2="407.1" y2="105" stroke="#111" stroke-width="1.3" />
<line x1="398.5" y1="72.5" x2="398.5" y2="63" stroke="#555" stroke-width="0.9" />
<line x1="397.45" y1="63.5" x2="399.85" y2="63.5" stroke="#555" stroke-width="0.9" />
<rect x="433.3" y="45.8" width="18.4" height="59.2" fill="#686868" stroke="#222" stroke-width="1.05" />
<line x1="451.5" y1="45.8" x2="451.5" y2="105" stroke="#111" stroke-width="1.3" />
<line x1="442.5" y1="45.8" x2="442.5" y2="27.5" stroke="#555" stroke-width="0.9" />
<line x1="441.3" y1="27.5" x2="443.7" y2="27.5" stroke="#555" stroke-width="0.9" />
<polyline points="357.5,43.5 357.5,18.5 396.5,18.5 396.5,66" fill="none" stroke="#555" stroke-width="0.9" stroke-linejoin="round" />
<polyline points="398.5,61.5 398.5,18.5 441.5,18.5 441.5,25" fill="none" stroke="#555" stroke-width="0.9" stroke-linejoin="round" />
<circle cx="378.6" cy="23.5" r="1.15" fill="#222"/>
<circle cx="419.1" cy="23.7" r="1.15" fill="#222"/>
<text transform="translate(307,99.7) rotate(-90)" font-size="8.5" textLength="56.3" lengthAdjust="spacingAndGlyphs" fill="#303030" >Rescue rate of</text>
<text transform="translate(316.2,99.7) rotate(-90)" font-size="8.5" textLength="62.7" lengthAdjust="spacingAndGlyphs" fill="#303030" >IgG1 expression</text>
<text x="346" y="112.6" font-size="8.5" textLength="23.2" lengthAdjust="spacingAndGlyphs" fill="#303030" >AID(-)</text>
<text x="340.2" y="122.6" font-size="8.5" textLength="15.6" lengthAdjust="spacingAndGlyphs" fill="#303030" >IM 0</text>
<text x="361.2" y="122.4" font-size="6.8" fill="#303030" font-style="italic">µ</text>
<text x="367.6" y="122.6" font-size="8.5" textLength="6.6" lengthAdjust="spacingAndGlyphs" fill="#303030" >M</text>
<text x="387" y="113.8" font-size="8.5" textLength="23.2" lengthAdjust="spacingAndGlyphs" fill="#303030" >AID(-)</text>
<text x="378.7" y="124.3" font-size="8.5" textLength="21" lengthAdjust="spacingAndGlyphs" fill="#303030" >IM 10</text>
<text x="405.5" y="124.1" font-size="6.8" fill="#303030" font-style="italic">µ</text>
<text x="412.1" y="124.3" font-size="8.5" textLength="6.5" lengthAdjust="spacingAndGlyphs" fill="#303030" >M</text>
<text x="428.5" y="113.8" font-size="8.5" textLength="25.3" lengthAdjust="spacingAndGlyphs" fill="#303030" >AID(+)</text>
<text x="422.3" y="124.3" font-size="8.5" textLength="21" lengthAdjust="spacingAndGlyphs" fill="#303030" >IM 10</text>
<text x="449.2" y="124.1" font-size="6.8" fill="#303030" font-style="italic">µ</text>
<text x="455.8" y="124.3" font-size="8.5" textLength="6.5" lengthAdjust="spacingAndGlyphs" fill="#303030" >M</text>
<line x1="263" y1="163.5" x2="269.5" y2="163.5" stroke="#1a1a1a" stroke-width="1.2" />
<rect x="269.5" y="158.9" width="39.7" height="11.4" fill="#fff" stroke="#333" stroke-width="1" />
<text x="271.6" y="167.7" font-size="8.5" textLength="35" lengthAdjust="spacingAndGlyphs" fill="#303030" >Region 4</text>
<polyline points="309.3,163.5 313.7,163.5 316.3,167.8 318.8,163.5 323.8,163.5" fill="none" stroke="#1a1a1a" stroke-width="1.1" stroke-linejoin="round" />
<rect x="323.8" y="157.8" width="41" height="11.6" fill="#fff" stroke="#333" stroke-width="1" />
<text x="326.8" y="167.2" font-size="8.5" textLength="33" lengthAdjust="spacingAndGlyphs" fill="#303030" >Region 1</text>
<rect x="364.8" y="157" width="2.8" height="13.6" fill="#000" stroke="none" stroke-width="1" />
<line x1="367.6" y1="163.5" x2="372.8" y2="163.5" stroke="#1a1a1a" stroke-width="1.2" />
<rect x="372.8" y="157.4" width="41.1" height="12.2" fill="#fff" stroke="#333" stroke-width="1" />
<text x="376.1" y="167.5" font-size="8.5" textLength="33.6" lengthAdjust="spacingAndGlyphs" fill="#303030" >Region 2</text>
<line x1="413.9" y1="163.5" x2="441.7" y2="163.5" stroke="#1a1a1a" stroke-width="1" />
<rect x="415.9" y="157.9" width="2.2" height="12" fill="#000" stroke="none" stroke-width="1" />
<rect x="419.8" y="157.9" width="3.7" height="12" fill="#000" stroke="none" stroke-width="1" />
<rect x="425.6" y="157.9" width="3.7" height="12" fill="#000" stroke="none" stroke-width="1" />
<rect x="430.4" y="157.9" width="11.3" height="12" fill="#000" stroke="none" stroke-width="1" />
<polyline points="441.7,164.5 444.8,164.5 447.1,168.2 449.6,164.5 454.7,164.5" fill="none" stroke="#1a1a1a" stroke-width="1" stroke-linejoin="round" />
<rect x="454.8" y="158" width="40.6" height="12.2" fill="#fff" stroke="#333" stroke-width="1" />
<text x="458" y="167.9" font-size="8.5" textLength="33.6" lengthAdjust="spacingAndGlyphs" fill="#303030" >Region 3</text>
<line x1="495.4" y1="164.5" x2="502" y2="164.5" stroke="#1a1a1a" stroke-width="1.2" />
<text x="350.6" y="153.8" font-size="8.5" textLength="25.3" lengthAdjust="spacingAndGlyphs" fill="#303030" >Exon 1</text>
<text x="413.6" y="153.6" font-size="8.5" fill="#303030" >2</text>
<text x="419" y="153.6" font-size="8.5" fill="#303030" >3</text>
<text x="425" y="153.6" font-size="8.5" fill="#303030" >4</text>
<text x="435.2" y="153.6" font-size="8.5" fill="#303030" >5</text>
<text x="263.8" y="182.6" font-size="7.3" textLength="18.4" lengthAdjust="spacingAndGlyphs" fill="#303030" >-9224</text>
<text x="292.6" y="182.6" font-size="7.3" textLength="18.5" lengthAdjust="spacingAndGlyphs" fill="#303030" >-7424</text>
<text x="316.9" y="182.6" font-size="7.3" textLength="18.5" lengthAdjust="spacingAndGlyphs" fill="#303030" >-1500</text>
<text x="349" y="182.6" font-size="7.3" textLength="13.8" lengthAdjust="spacingAndGlyphs" fill="#303030" >+101</text>
<text x="371.4" y="182.6" font-size="7.3" textLength="14.7" lengthAdjust="spacingAndGlyphs" fill="#303030" >+121</text>
<text x="400.3" y="182.6" font-size="7.3" textLength="18.3" lengthAdjust="spacingAndGlyphs" fill="#303030" >+2221</text>
<text x="444.6" y="182.6" font-size="7.3" textLength="24.6" lengthAdjust="spacingAndGlyphs" fill="#303030" >+16278</text>
<text x="477.5" y="182.6" font-size="7.3" textLength="24.5" lengthAdjust="spacingAndGlyphs" fill="#303030" >+18378</text>
<polyline points="362.5,185.3 362.5,199.2 278.8,243.2" fill="none" stroke="#1a1a1a" stroke-width="1.2" stroke-linejoin="round" />
<polyline points="414.5,185.3 414.5,199.2 500.6,240.8" fill="none" stroke="#1a1a1a" stroke-width="1.2" stroke-linejoin="round" />
<text x="367.8" y="203.2" font-size="8.5" textLength="36.8" lengthAdjust="spacingAndGlyphs" fill="#303030" >Enhancer</text>
<rect x="355.5" y="205.5" width="30.1" height="12.7" fill="#fff" stroke="#333" stroke-width="1" />
<text x="358.6" y="215.2" font-size="8.5" textLength="24.3" lengthAdjust="spacingAndGlyphs" fill="#303030" >PAX5</text>
<rect x="391.2" y="205.5" width="23" height="12.7" fill="#fff" stroke="#333" stroke-width="1" />
<text x="393.9" y="215.2" font-size="8.5" textLength="17.2" lengthAdjust="spacingAndGlyphs" fill="#303030" >E2A</text>
<line x1="282.8" y1="246.5" x2="481.2" y2="246.5" stroke="#1a1a1a" stroke-width="1.2" />
<rect x="294.6" y="238.3" width="13" height="16.6" fill="#000" stroke="none" stroke-width="1" />
<ellipse cx="324.1" cy="246.8" rx="4.1" ry="5.9" fill="#6e6e6e" stroke="#555" stroke-width="0.6"/>
<ellipse cx="329.8" cy="246.8" rx="4.1" ry="5.9" fill="#6e6e6e" stroke="#555" stroke-width="0.6"/>
<rect x="362.3" y="240.9" width="12.6" height="12.2" fill="#6a6a6a" stroke="#444" stroke-width="0.8" />
<rect x="387.2" y="240.9" width="12.8" height="12.2" fill="#6a6a6a" stroke="#444" stroke-width="0.8" />
<rect x="407.7" y="240.9" width="12.3" height="12.2" fill="#6a6a6a" stroke="#444" stroke-width="0.8" />
<polygon points="435.6,240.8 441.2,240.8 444,246.9 441.2,253 435.6,253 432.8,246.9" fill="#6e6e6e" stroke="#555" stroke-width="0.6" stroke-linejoin="round" />
<rect x="456.2" y="238.2" width="13" height="17.1" fill="#000" stroke="none" stroke-width="1" />
<line x1="370.8" y1="218.2" x2="370.8" y2="235.5" stroke="#111" stroke-width="1.3" />
<polygon points="370.8,239.2 368.6,235 373,235" fill="#111" stroke="none" stroke-width="1" stroke-linejoin="round" />
<line x1="403.7" y1="218.4" x2="395.48" y2="235.85" stroke="#111" stroke-width="1.3" />
<polygon points="393.9,239.2 393.7,234.46 397.68,236.34" fill="#111" stroke="none" stroke-width="1" stroke-linejoin="round" />
<line x1="403.7" y1="218.4" x2="412.18" y2="235.87" stroke="#111" stroke-width="1.3" />
<polygon points="413.8,239.2 409.99,236.38 413.94,234.46" fill="#111" stroke="none" stroke-width="1" stroke-linejoin="round" />
<line x1="436.3" y1="275.6" x2="436.3" y2="259.1" stroke="#111" stroke-width="1.4" stroke-dasharray="1,0.9"/>
<polygon points="436.3,255.4 438.5,259.6 434.1,259.6" fill="#111" stroke="none" stroke-width="1" stroke-linejoin="round" />
<path d="M360.6,254.4 Q360.6,258 364,258 L386.5,258 Q389,258 389.3,262 Q389.6,258 392,258 L415,258 Q418.4,258 418.4,254.4" fill="none" stroke="#444" stroke-width="0.9"/>
<text x="286.9" y="264.9" font-size="8.5" textLength="25.2" lengthAdjust="spacingAndGlyphs" fill="#303030" >Exon 1</text>
<text x="450.7" y="265.4" font-size="8.5" textLength="25.8" lengthAdjust="spacingAndGlyphs" fill="#303030" >Exon 2</text>
<text x="363" y="272.8" font-size="8.5" textLength="52.6" lengthAdjust="spacingAndGlyphs" fill="#303030" >B cell specific</text>
<rect x="425.6" y="275.6" width="19.7" height="13.4" fill="#fff" stroke="#333" stroke-width="1" />
<text x="429.3" y="285.6" font-size="8.5" textLength="12.6" lengthAdjust="spacingAndGlyphs" fill="#303030" >E2f</text>
<text x="419.6" y="297.4" font-size="8.5" textLength="30.9" lengthAdjust="spacingAndGlyphs" fill="#303030" >Silencer</text>
<line x1="45.5" y1="327" x2="45.5" y2="420" stroke="#4a4a4a" stroke-width="0.9" />
<line x1="45.3" y1="420.5" x2="177" y2="420.5" stroke="#4a4a4a" stroke-width="0.9" />
<line x1="45.3" y1="333.5" x2="46.7" y2="333.5" stroke="#333" stroke-width="0.9" />
<text x="42.7" y="336.7" font-size="8.5" text-anchor="end" textLength="10.5" lengthAdjust="spacingAndGlyphs" fill="#303030" >1.5</text>
<line x1="45.3" y1="362.5" x2="46.7" y2="362.5" stroke="#333" stroke-width="0.9" />
<text x="42.7" y="365.4" font-size="8.5" text-anchor="end" textLength="10.5" lengthAdjust="spacingAndGlyphs" fill="#303030" >1.0</text>
<line x1="45.3" y1="391.5" x2="46.7" y2="391.5" stroke="#333" stroke-width="0.9" />
<text x="42.7" y="394.4" font-size="8.5" text-anchor="end" textLength="10.5" lengthAdjust="spacingAndGlyphs" fill="#303030" >0.5</text>
<text x="42.7" y="423.2" font-size="8.5" text-anchor="end" textLength="4.3" lengthAdjust="spacingAndGlyphs" fill="#303030" >0</text>
<line x1="45.3" y1="347.5" x2="46.5" y2="347.5" stroke="#444" stroke-width="0.8" />
<line x1="45.3" y1="376.5" x2="46.5" y2="376.5" stroke="#444" stroke-width="0.8" />
<line x1="45.3" y1="405.5" x2="46.5" y2="405.5" stroke="#444" stroke-width="0.8" />
<line x1="87.5" y1="420" x2="87.5" y2="418.7" stroke="#333" stroke-width="0.8" />
<line x1="130.5" y1="420" x2="130.5" y2="418.7" stroke="#333" stroke-width="0.8" />
<line x1="173.5" y1="420" x2="173.5" y2="418.7" stroke="#333" stroke-width="0.8" />
<rect x="57.2" y="362.2" width="18" height="57.8" fill="#686868" stroke="#222" stroke-width="1.05" />
<line x1="75" y1="362.2" x2="75" y2="420" stroke="#111" stroke-width="1.3" />
<line x1="66.5" y1="362.2" x2="66.5" y2="331.4" stroke="#555" stroke-width="0.9" />
<line x1="65" y1="331.5" x2="67.4" y2="331.5" stroke="#555" stroke-width="0.9" />
<rect x="100.8" y="397" width="16.6" height="23" fill="#686868" stroke="#222" stroke-width="1.05" />
<line x1="117.2" y1="397" x2="117.2" y2="420" stroke="#111" stroke-width="1.3" />
<line x1="109.5" y1="397" x2="109.5" y2="389" stroke="#555" stroke-width="0.9" />
<line x1="107.9" y1="389.5" x2="110.3" y2="389.5" stroke="#555" stroke-width="0.9" />
<rect x="143" y="398" width="17.8" height="22" fill="#686868" stroke="#222" stroke-width="1.05" />
<line x1="160.6" y1="398" x2="160.6" y2="420" stroke="#111" stroke-width="1.3" />
<line x1="151.5" y1="398" x2="151.5" y2="392.3" stroke="#555" stroke-width="0.9" />
<line x1="150.7" y1="392.5" x2="153.1" y2="392.5" stroke="#555" stroke-width="0.9" />
<line x1="66.5" y1="320.2" x2="66.5" y2="328" stroke="#555" stroke-width="0.9" />
<polyline points="66.6,320.5 152.5,320.5 152.5,389.6" fill="none" stroke="#555" stroke-width="0.9" stroke-linejoin="round" />
<polyline points="66.6,324.5 108.5,324.5 108.5,386.2" fill="none" stroke="#555" stroke-width="0.9" stroke-linejoin="round" />
<circle cx="107.7" cy="317" r="1.15" fill="#222"/>
<circle cx="87.7" cy="328.2" r="1.15" fill="#222"/>
<text x="16.2" y="321.6" font-size="8.5" textLength="20.3" lengthAdjust="spacingAndGlyphs" fill="#303030" >PAX5</text>
<text transform="translate(17.5,410.7) rotate(-90)" font-size="8.5" textLength="77.2" lengthAdjust="spacingAndGlyphs" fill="#303030" >Relative normalized</text>
<text transform="translate(27,410.7) rotate(-90)" font-size="8.5" textLength="70.2" lengthAdjust="spacingAndGlyphs" fill="#303030" >mRNA expression</text>
<text x="63.2" y="428.6" font-size="8.5" fill="#303030" >0</text>
<text x="108.4" y="428.6" font-size="8.5" fill="#303030" >1</text>
<text x="150.8" y="428.6" font-size="8.5" fill="#303030" >10</text>
<text x="62.5" y="438.2" font-size="8.5" textLength="89.4" lengthAdjust="spacingAndGlyphs" fill="#303030" >Imatinib concentration (</text>
<text x="154.4" y="437.1" font-size="6.8" fill="#303030" font-style="italic">µ</text>
<text x="158.8" y="438.2" font-size="8.5" textLength="6.6" lengthAdjust="spacingAndGlyphs" fill="#303030" >M</text>
<text x="168.6" y="438.2" font-size="8.5" textLength="2.3" lengthAdjust="spacingAndGlyphs" fill="#303030" >)</text>
<line x1="220.5" y1="328.6" x2="220.5" y2="421" stroke="#4a4a4a" stroke-width="0.9" />
<line x1="220.4" y1="421.5" x2="351.2" y2="421.5" stroke="#4a4a4a" stroke-width="0.9" />
<line x1="220.4" y1="335.5" x2="221.8" y2="335.5" stroke="#333" stroke-width="0.9" />
<text x="217.2" y="338.5" font-size="8.5" text-anchor="end" textLength="11.4" lengthAdjust="spacingAndGlyphs" fill="#303030" >1.5</text>
<line x1="220.4" y1="363.5" x2="221.8" y2="363.5" stroke="#333" stroke-width="0.9" />
<text x="217.2" y="366.9" font-size="8.5" text-anchor="end" textLength="11.4" lengthAdjust="spacingAndGlyphs" fill="#303030" >1.0</text>
<line x1="220.4" y1="392.5" x2="221.8" y2="392.5" stroke="#333" stroke-width="0.9" />
<text x="217.2" y="395.7" font-size="8.5" text-anchor="end" textLength="11.4" lengthAdjust="spacingAndGlyphs" fill="#303030" >0.5</text>
<text x="217.2" y="424.2" font-size="8.5" text-anchor="end" textLength="4.3" lengthAdjust="spacingAndGlyphs" fill="#303030" >0</text>
<line x1="220.4" y1="349.5" x2="221.6" y2="349.5" stroke="#444" stroke-width="0.8" />
<line x1="220.4" y1="378.5" x2="221.6" y2="378.5" stroke="#444" stroke-width="0.8" />
<line x1="220.4" y1="406.5" x2="221.6" y2="406.5" stroke="#444" stroke-width="0.8" />
<line x1="263.5" y1="421" x2="263.5" y2="419.7" stroke="#333" stroke-width="0.8" />
<line x1="306.5" y1="421" x2="306.5" y2="419.7" stroke="#333" stroke-width="0.8" />
<line x1="348.5" y1="421" x2="348.5" y2="419.7" stroke="#333" stroke-width="0.8" />
<rect x="233" y="363.7" width="17.8" height="57.3" fill="#686868" stroke="#222" stroke-width="1.05" />
<line x1="250.6" y1="363.7" x2="250.6" y2="421" stroke="#111" stroke-width="1.3" />
<line x1="241.5" y1="363.7" x2="241.5" y2="357.2" stroke="#555" stroke-width="0.9" />
<line x1="240.7" y1="357.5" x2="243.1" y2="357.5" stroke="#555" stroke-width="0.9" />
<rect x="276.5" y="413.6" width="17.1" height="7.4" fill="#686868" stroke="#222" stroke-width="1.05" />
<line x1="293.4" y1="413.6" x2="293.4" y2="421" stroke="#111" stroke-width="1.3" />
<line x1="285.5" y1="413.6" x2="285.5" y2="412.2" stroke="#555" stroke-width="0.9" />
<line x1="283.85" y1="412.5" x2="286.25" y2="412.5" stroke="#555" stroke-width="0.9" />
<rect x="318.4" y="410" width="18.2" height="11" fill="#686868" stroke="#222" stroke-width="1.05" />
<line x1="336.4" y1="410" x2="336.4" y2="421" stroke="#111" stroke-width="1.3" />
<line x1="327.5" y1="410" x2="327.5" y2="408.3" stroke="#555" stroke-width="0.9" />
<line x1="326.3" y1="408.5" x2="328.7" y2="408.5" stroke="#555" stroke-width="0.9" />
<line x1="241.5" y1="329.7" x2="241.5" y2="354.7" stroke="#555" stroke-width="0.9" />
<polyline points="241.6,329.5 328.5,329.5 328.5,401.7" fill="none" stroke="#555" stroke-width="0.9" stroke-linejoin="round" />
<polyline points="241.6,334.5 283.5,334.5 283.5,410.7" fill="none" stroke="#555" stroke-width="0.9" stroke-linejoin="round" />
<circle cx="283.7" cy="327" r="1.15" fill="#222"/>
<circle cx="263" cy="339" r="1.15" fill="#222"/>
<text x="196" y="324.3" font-size="8.5" textLength="16.8" lengthAdjust="spacingAndGlyphs" fill="#303030" >E2f7</text>
<text transform="translate(193.4,410.3) rotate(-90)" font-size="8.5" textLength="75.8" lengthAdjust="spacingAndGlyphs" fill="#6a6a6a" >Relative normalized</text>
<text transform="translate(204,410.3) rotate(-90)" font-size="8.5" textLength="67.8" lengthAdjust="spacingAndGlyphs" fill="#303030" >mRNA expression</text>
<text x="238.2" y="429.5" font-size="8.5" fill="#303030" >0</text>
<text x="283.6" y="429.5" font-size="8.5" fill="#303030" >1</text>
<text x="327.2" y="429.5" font-size="8.5" fill="#303030" >10</text>
<text x="236.4" y="438.7" font-size="8.5" textLength="89.8" lengthAdjust="spacingAndGlyphs" fill="#303030" >Imatinib concentration (</text>
<text x="328.7" y="437.6" font-size="6.8" fill="#303030" font-style="italic">µ</text>
<text x="333.1" y="438.7" font-size="8.5" textLength="6.6" lengthAdjust="spacingAndGlyphs" fill="#303030" >M</text>
<text x="342.9" y="438.7" font-size="8.5" textLength="2.3" lengthAdjust="spacingAndGlyphs" fill="#303030" >)</text>
<line x1="45.5" y1="460" x2="45.5" y2="551.4" stroke="#4a4a4a" stroke-width="0.9" />
<line x1="45.2" y1="551.5" x2="176.7" y2="551.5" stroke="#4a4a4a" stroke-width="0.9" />
<line x1="45.2" y1="466.5" x2="46.6" y2="466.5" stroke="#333" stroke-width="0.9" />
<text x="42.6" y="469.6" font-size="8.5" text-anchor="end" textLength="10.5" lengthAdjust="spacingAndGlyphs" fill="#303030" >1.5</text>
<line x1="45.2" y1="494.5" x2="46.6" y2="494.5" stroke="#333" stroke-width="0.9" />
<text x="42.6" y="497.9" font-size="8.5" text-anchor="end" textLength="10.5" lengthAdjust="spacingAndGlyphs" fill="#303030" >1.0</text>
<line x1="45.2" y1="523.5" x2="46.6" y2="523.5" stroke="#333" stroke-width="0.9" />
<text x="42.6" y="526.2" font-size="8.5" text-anchor="end" textLength="10.5" lengthAdjust="spacingAndGlyphs" fill="#303030" >0.5</text>
<text x="42.6" y="554.6" font-size="8.5" text-anchor="end" textLength="4.3" lengthAdjust="spacingAndGlyphs" fill="#303030" >0</text>
<line x1="45.2" y1="480.5" x2="46.4" y2="480.5" stroke="#444" stroke-width="0.8" />
<line x1="45.2" y1="508.5" x2="46.4" y2="508.5" stroke="#444" stroke-width="0.8" />
<line x1="45.2" y1="537.5" x2="46.4" y2="537.5" stroke="#444" stroke-width="0.8" />
<line x1="87.5" y1="551.4" x2="87.5" y2="550.1" stroke="#333" stroke-width="0.8" />
<line x1="130.5" y1="551.4" x2="130.5" y2="550.1" stroke="#333" stroke-width="0.8" />
<line x1="173.5" y1="551.4" x2="173.5" y2="550.1" stroke="#333" stroke-width="0.8" />
<rect x="57.2" y="494.7" width="18.6" height="56.7" fill="#686868" stroke="#222" stroke-width="1.05" />
<line x1="75.6" y1="494.7" x2="75.6" y2="551.4" stroke="#111" stroke-width="1.3" />
<line x1="66.5" y1="494.7" x2="66.5" y2="491.8" stroke="#555" stroke-width="0.9" />
<line x1="65.3" y1="491.5" x2="67.7" y2="491.5" stroke="#555" stroke-width="0.9" />
<rect x="100.8" y="536.1" width="17.8" height="15.3" fill="#686868" stroke="#222" stroke-width="1.05" />
<line x1="118.4" y1="536.1" x2="118.4" y2="551.4" stroke="#111" stroke-width="1.3" />
<line x1="109.5" y1="536.1" x2="109.5" y2="530.8" stroke="#555" stroke-width="0.9" />
<line x1="108.5" y1="530.5" x2="110.9" y2="530.5" stroke="#555" stroke-width="0.9" />
<line x1="144" y1="550.8" x2="159.5" y2="550.8" stroke="#222" stroke-width="1.3" />
<line x1="66.5" y1="461.5" x2="66.5" y2="477.7" stroke="#555" stroke-width="0.9" />
<polyline points="66.2,461.5 152.5,461.5 152.5,550" fill="none" stroke="#555" stroke-width="0.9" stroke-linejoin="round" />
<polyline points="66.2,465.5 107.5,465.5 107.5,531.2" fill="none" stroke="#555" stroke-width="0.9" stroke-linejoin="round" />
<polyline points="109.5,531.2 109.5,465.5 150.5,465.5 150.5,550" fill="none" stroke="#555" stroke-width="0.9" stroke-linejoin="round" />
<circle cx="107.7" cy="457.7" r="1.15" fill="#222"/>
<circle cx="87.4" cy="470.3" r="1.15" fill="#222"/>
<circle cx="128.3" cy="470.3" r="1.15" fill="#222"/>
<text x="22.1" y="455" font-size="8.5" textLength="16.1" lengthAdjust="spacingAndGlyphs" fill="#303030" >E2A</text>
<text transform="translate(19.4,543.8) rotate(-90)" font-size="8.5" textLength="77.5" lengthAdjust="spacingAndGlyphs" fill="#303030" >Relative normalized</text>
<text transform="translate(29.2,543.8) rotate(-90)" font-size="8.5" textLength="70.6" lengthAdjust="spacingAndGlyphs" fill="#303030" >mRNA expression</text>
<text x="63.2" y="560.6" font-size="8.5" fill="#303030" >0</text>
<text x="107" y="560.6" font-size="8.5" fill="#303030" >1</text>
<text x="151.6" y="560.6" font-size="8.5" fill="#303030" >10</text>
<text x="61.9" y="569.5" font-size="8.5" textLength="89.3" lengthAdjust="spacingAndGlyphs" fill="#303030" >Imatinib concentration (</text>
<text x="153.7" y="568.4" font-size="6.8" fill="#303030" font-style="italic">µ</text>
<text x="158.1" y="569.5" font-size="8.5" textLength="6.6" lengthAdjust="spacingAndGlyphs" fill="#303030" >M</text>
<text x="167.9" y="569.5" font-size="8.5" textLength="2.3" lengthAdjust="spacingAndGlyphs" fill="#303030" >)</text>
<line x1="220.5" y1="460.8" x2="220.5" y2="552" stroke="#4a4a4a" stroke-width="0.9" />
<line x1="220.6" y1="552.5" x2="353" y2="552.5" stroke="#4a4a4a" stroke-width="0.9" />
<line x1="220.6" y1="467.5" x2="222" y2="467.5" stroke="#333" stroke-width="0.9" />
<text x="217.2" y="470.2" font-size="8.5" text-anchor="end" textLength="11.2" lengthAdjust="spacingAndGlyphs" fill="#303030" >1.5</text>
<line x1="220.6" y1="495.5" x2="222" y2="495.5" stroke="#333" stroke-width="0.9" />
<text x="217.2" y="498.6" font-size="8.5" text-anchor="end" textLength="11.2" lengthAdjust="spacingAndGlyphs" fill="#303030" >1.0</text>
<line x1="220.6" y1="523.5" x2="222" y2="523.5" stroke="#333" stroke-width="0.9" />
<text x="217.2" y="526.9" font-size="8.5" text-anchor="end" textLength="11.2" lengthAdjust="spacingAndGlyphs" fill="#303030" >0.5</text>
<text x="217.2" y="555.2" font-size="8.5" text-anchor="end" textLength="4.3" lengthAdjust="spacingAndGlyphs" fill="#303030" >0</text>
<line x1="220.6" y1="481.5" x2="221.8" y2="481.5" stroke="#444" stroke-width="0.8" />
<line x1="220.6" y1="509.5" x2="221.8" y2="509.5" stroke="#444" stroke-width="0.8" />
<line x1="220.6" y1="537.5" x2="221.8" y2="537.5" stroke="#444" stroke-width="0.8" />
<line x1="263.5" y1="552" x2="263.5" y2="550.7" stroke="#333" stroke-width="0.8" />
<line x1="306.5" y1="552" x2="306.5" y2="550.7" stroke="#333" stroke-width="0.8" />
<line x1="349.5" y1="552" x2="349.5" y2="550.7" stroke="#333" stroke-width="0.8" />
<rect x="233" y="495.4" width="18.2" height="56.6" fill="#686868" stroke="#222" stroke-width="1.05" />
<line x1="251" y1="495.4" x2="251" y2="552" stroke="#111" stroke-width="1.3" />
<line x1="242.5" y1="495.4" x2="242.5" y2="492.6" stroke="#555" stroke-width="0.9" />
<line x1="240.9" y1="492.5" x2="243.3" y2="492.5" stroke="#555" stroke-width="0.9" />
<rect x="276" y="538.6" width="18.2" height="13.4" fill="#686868" stroke="#222" stroke-width="1.05" />
<line x1="294" y1="538.6" x2="294" y2="552" stroke="#111" stroke-width="1.3" />
<line x1="285.5" y1="538.6" x2="285.5" y2="536" stroke="#555" stroke-width="0.9" />
<line x1="283.9" y1="536.5" x2="286.3" y2="536.5" stroke="#555" stroke-width="0.9" />
<rect x="319" y="547.3" width="18.8" height="4.7" fill="#686868" stroke="#222" stroke-width="1.05" />
<line x1="337.6" y1="547.3" x2="337.6" y2="552" stroke="#111" stroke-width="1.3" />
<line x1="328.5" y1="547.3" x2="328.5" y2="545.2" stroke="#555" stroke-width="0.9" />
<line x1="327.2" y1="545.5" x2="329.6" y2="545.5" stroke="#555" stroke-width="0.9" />
<line x1="241.5" y1="464.3" x2="241.5" y2="487" stroke="#555" stroke-width="0.9" />
<polyline points="241.8,464.5 328.5,464.5 328.5,545" fill="none" stroke="#555" stroke-width="0.9" stroke-linejoin="round" />
<polyline points="241.8,468.5 283.5,468.5 283.5,535.5" fill="none" stroke="#555" stroke-width="0.9" stroke-linejoin="round" />
<polyline points="285.5,535.5 285.5,468.5 327.5,468.5 327.5,545" fill="none" stroke="#555" stroke-width="0.9" stroke-linejoin="round" />
<circle cx="283.6" cy="457.7" r="1.15" fill="#222"/>
<circle cx="263" cy="471" r="1.15" fill="#222"/>
<circle cx="304" cy="470.7" r="1.15" fill="#222"/>
<text x="196.3" y="455.2" font-size="8.5" textLength="16.9" lengthAdjust="spacingAndGlyphs" fill="#303030" >E2f8</text>
<text transform="translate(193.9,542.8) rotate(-90)" font-size="8.5" textLength="77.6" lengthAdjust="spacingAndGlyphs" fill="#303030" >Relative normalized</text>
<text transform="translate(204.1,542.8) rotate(-90)" font-size="8.5" textLength="70.1" lengthAdjust="spacingAndGlyphs" fill="#303030" >mRNA expression</text>
<text x="239.3" y="560.9" font-size="8.5" fill="#303030" >0</text>
<text x="284.3" y="560.9" font-size="8.5" fill="#303030" >1</text>
<text x="322.4" y="560.9" font-size="8.5" fill="#303030" >10</text>
<text x="238.3" y="570.3" font-size="8.5" textLength="90.5" lengthAdjust="spacingAndGlyphs" fill="#303030" >Imatinib concentration (</text>
<text x="331.3" y="569.2" font-size="6.8" fill="#303030" font-style="italic">µ</text>
<text x="335.7" y="570.3" font-size="8.5" textLength="6.6" lengthAdjust="spacingAndGlyphs" fill="#303030" >M</text>
<text x="345.5" y="570.3" font-size="8.5" textLength="2.3" lengthAdjust="spacingAndGlyphs" fill="#303030" >)</text>
<line x1="335.8" y1="541.5" x2="337.6" y2="541.5" stroke="#555" stroke-width="0.8" />
<text x="368.4" y="335" font-size="8.5" textLength="18.6" lengthAdjust="spacingAndGlyphs" fill="#303030" >Input</text>
<line x1="359.7" y1="336.5" x2="394.3" y2="336.5" stroke="#333" stroke-width="1" />
<text x="368" y="345.3" font-size="8" text-anchor="middle" fill="#303030" >-</text>
<text x="386.5" y="345.6" font-size="8" text-anchor="middle" fill="#303030" >+</text>
<rect x="356.5" y="349.5" width="44" height="18" fill="#fff" stroke="#333" stroke-width="0.9" />
<rect x="361.3" y="355" width="13.4" height="3" rx="1.5" fill="#0a0a0a"/>
<rect x="356.4" y="372.6" width="44.4" height="19.7" fill="#fff" stroke="#333" stroke-width="0.9" />
<rect x="358" y="378.2" width="18.6" height="8" rx="3.2" fill="#000"/>
<rect x="379.6" y="378.2" width="18.6" height="8" rx="3.2" fill="#000"/>
<text x="403.6" y="385.8" font-size="8.5" textLength="24.4" lengthAdjust="spacingAndGlyphs" fill="#303030" >β actin</text>
<text x="438.3" y="334.3" font-size="8.5" textLength="12.1" lengthAdjust="spacingAndGlyphs" fill="#303030" >WT</text>
<line x1="427.3" y1="336.5" x2="461.3" y2="336.5" stroke="#333" stroke-width="1" />
<text x="467.8" y="334.3" font-size="8.5" textLength="14.2" lengthAdjust="spacingAndGlyphs" fill="#303030" >Mut</text>
<line x1="467.8" y1="336.5" x2="482" y2="336.5" stroke="#333" stroke-width="1" />
<text x="493.6" y="334.6" font-size="9" textLength="22.4" lengthAdjust="spacingAndGlyphs" fill="#303030" >Probe</text>
<text x="436.3" y="344.8" font-size="8" text-anchor="middle" fill="#303030" >-</text>
<text x="454.6" y="345.1" font-size="8" text-anchor="middle" fill="#303030" >+</text>
<text x="475.8" y="344.8" font-size="8" text-anchor="middle" fill="#303030" >-</text>
<text x="493.7" y="346.7" font-size="9" textLength="8.6" lengthAdjust="spacingAndGlyphs" fill="#303030" >IM</text>
<rect x="425.5" y="349.7" width="61.1" height="20.1" fill="#fff" stroke="#333" stroke-width="0.9" />
<rect x="428.8" y="358" width="12" height="3.4" rx="1.7" fill="#050505"/>
<ellipse cx="455.3" cy="359.4" rx="4.3" ry="0.8" fill="#d0d0d0"/>
<ellipse cx="475.1" cy="359.3" rx="3.6" ry="0.9" fill="#a8a8a8"/>
<text x="493" y="363.2" font-size="9" textLength="14.4" lengthAdjust="spacingAndGlyphs" fill="#303030" >E47</text>
</svg>
</body></html>
